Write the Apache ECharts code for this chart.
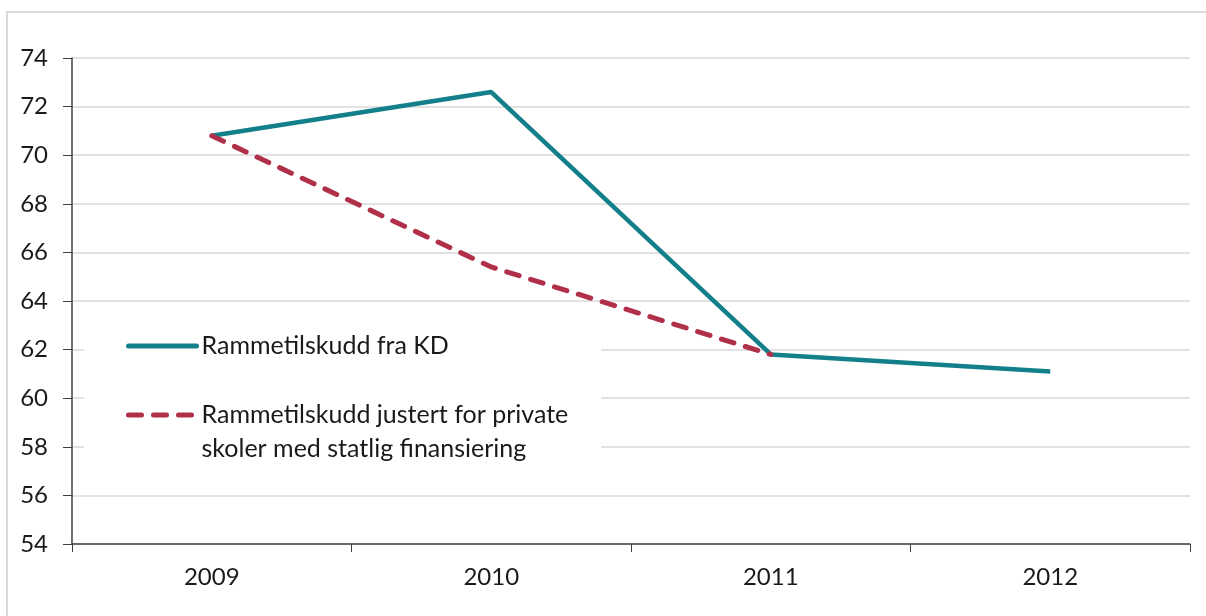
<!DOCTYPE html>
<html>
<head>
<meta charset="utf-8">
<script src="https://cdn.jsdelivr.net/npm/echarts@6/dist/echarts.min.js"></script>
<style>
html,body{margin:0;padding:0;background:#fff;}
#chart{width:1206px;height:616px;}
</style>
</head>
<body>
<div id="chart"></div>
<script>
const categories = ['2009', '2010', '2011', '2012'];
const seriesKD = [70.8, 72.6, 61.8, 61.1];
const seriesJustert = [70.8, 65.4, 61.8, null];
const nameKD = 'Rammetilskudd fra KD';
const nameJustert = 'Rammetilskudd justert for private\nskoler med statlig finansiering';

const FONT = 'Lato';
const chart = echarts.init(document.getElementById('chart'), null, {renderer: 'canvas'});
chart.setOption({
  animation: false,
  backgroundColor: '#fff',
  graphic: [{
    type: 'rect', z: -10,
    shape: {x: 7, y: 12, width: 1400, height: 800},
    style: {fill: 'none', stroke: '#d9d9d9', lineWidth: 2}
  }],
  grid: {left: 72, right: 16, top: 58, bottom: 72, containLabel: false},
  legend: {
    orient: 'vertical',
    left: 84, top: 318,
    itemWidth: 68, itemHeight: 14,
    itemGap: 1,
    backgroundColor: '#fff',
    padding: [11, 33, 11, 42],
    selectedMode: false,
    itemStyle: {opacity: 0},
    lineStyle: {width: 5, cap: 'round'},
    formatter: function (name) { return name === nameJustert ? '\n' + name : name; },
    textStyle: {fontFamily: FONT, fontSize: 25, color: '#1a1a1a', lineHeight: 34},
    data: [nameKD, nameJustert]
  },
  xAxis: {
    type: 'category',
    data: categories,
    boundaryGap: true,
    axisLine: {lineStyle: {color: '#404040', width: 1.5}},
    axisTick: {show: true, length: 8, lineStyle: {color: '#404040'}},
    axisLabel: {fontFamily: FONT, fontSize: 24, color: '#1a1a1a', margin: 21},
    splitLine: {show: false}
  },
  yAxis: {
    type: 'value',
    min: 54, max: 74, interval: 2,
    axisLine: {show: true, lineStyle: {color: '#404040', width: 1.5}},
    axisTick: {show: true, length: 9, lineStyle: {color: '#404040'}},
    axisLabel: {fontFamily: FONT, fontSize: 24, color: '#1a1a1a', margin: 24},
    splitLine: {show: true, lineStyle: {color: '#d9d9d9', width: 1.5}}
  },
  series: [
    {
      name: nameKD, type: 'line', data: seriesKD,
      symbol: 'none', z: 3,
      lineStyle: {color: '#137f8a', width: 4.5},
      itemStyle: {color: '#137f8a'}
    },
    {
      name: nameJustert, type: 'line', data: seriesJustert,
      symbol: 'none', z: 4,
      lineStyle: {color: '#b0304a', width: 5, type: [13, 12], cap: 'round'},
      itemStyle: {color: '#b0304a'}
    }
  ]
});
</script>
</body>
</html>
